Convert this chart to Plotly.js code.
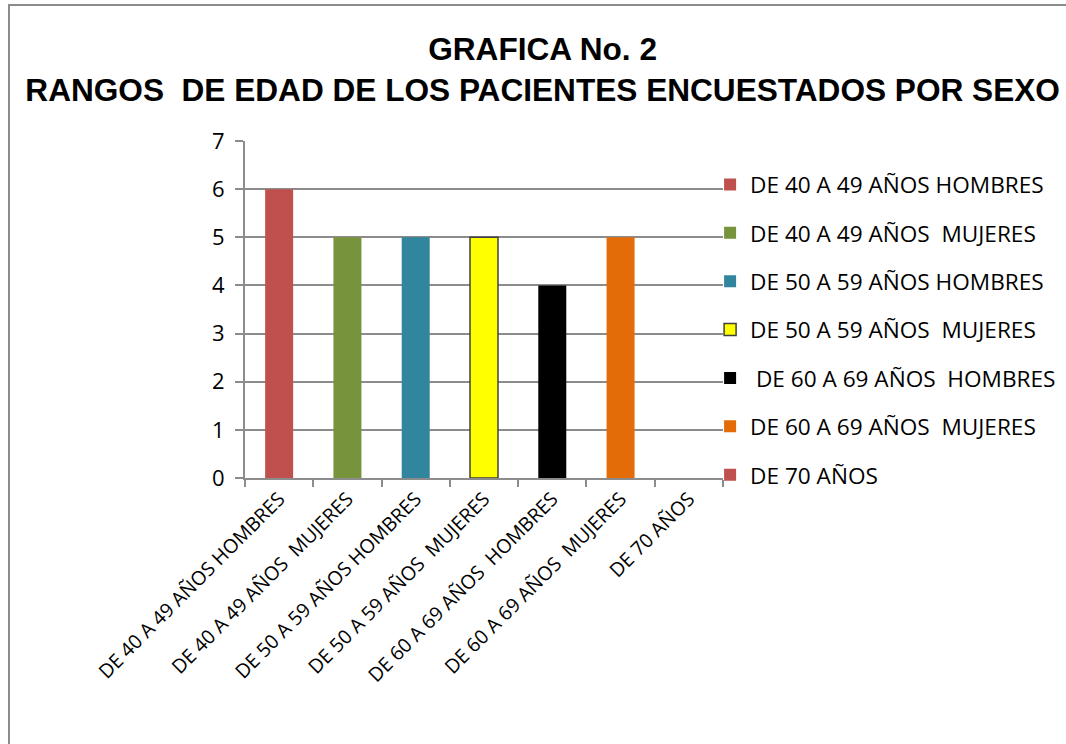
<!DOCTYPE html>
<html>
<head>
<meta charset="utf-8">
<script src="https://cdn.plot.ly/plotly-3.0.1.min.js"></script>
<style>
  html, body { margin: 0; padding: 0; background: #fff; overflow: hidden; }
  #frame { position: absolute; left: 8px; top: 4px; width: 1100px; height: 800px; border: 2px solid #8c8c8c; box-sizing: border-box; }
  #chart { position: absolute; left: 0; top: 0; width: 1066px; height: 744px; }
</style>
</head>
<body>
<div id="frame"></div>
<div id="chart"></div>
<script>
const categories = [
  "DE 40 A 49 AÑOS HOMBRES",
  "DE 40 A 49 AÑOS  MUJERES",
  "DE 50 A 59 AÑOS HOMBRES",
  "DE 50 A 59 AÑOS  MUJERES",
  "DE 60 A 69 AÑOS  HOMBRES",
  "DE 60 A 69 AÑOS  MUJERES",
  "DE 70 AÑOS"
];
const legendNames = [
  "DE 40 A 49 AÑOS HOMBRES",
  "DE 40 A 49 AÑOS  MUJERES",
  "DE 50 A 59 AÑOS HOMBRES",
  "DE 50 A 59 AÑOS  MUJERES",
  " DE 60 A 69 AÑOS  HOMBRES",
  "DE 60 A 69 AÑOS  MUJERES",
  "DE 70 AÑOS"
];
const values = [6, 5, 5, 5, 4, 5, 0];
const colors = ["#C0504D", "#77933C", "#31859C", "#FFFF00", "#000000", "#E36C09", "#C0504D"];
const outlines = [null, null, null, "#404040", null, null, null];

const traces = categories.map((c, i) => ({
  type: "bar",
  x: [c],
  y: [values[i]],
  name: legendNames[i],
  legendgroup: "g" + i,
  marker: {
    color: colors[i],
    line: outlines[i] ? { color: outlines[i], width: 1.5 } : { width: 0 }
  },
  hoverinfo: "x+y"
}));

const layout = {
  width: 1066,
  height: 744,
  paper_bgcolor: "rgba(0,0,0,0)",
  plot_bgcolor: "rgba(0,0,0,0)",
  margin: { l: 245, r: 343, t: 141, b: 266, autoexpand: false },
  barmode: "overlay",
  bargap: 0.59,
  title: {
    text: "<b>GRAFICA No. 2</b><br><b>RANGOS  DE EDAD DE LOS PACIENTES ENCUESTADOS POR SEXO</b>",
    font: { family: "Liberation Sans, Arial, sans-serif", size: 31.6, color: "#000" },
    x: 0.509,
    xanchor: "center",
    y: 0.92,
    yanchor: "top"
  },
  font: { family: "Open Sans, sans-serif", color: "#000" },
  xaxis: {
    type: "category",
    categoryorder: "array",
    categoryarray: categories,
    tickangle: -45,
    tickfont: { size: 19.5, family: "Open Sans, sans-serif", color: "#000" },
    ticks: "outside",
    tickson: "boundaries",
    ticklen: 7,
    tickcolor: "#8c8c8c",
    tickwidth: 2,
    showline: true,
    linecolor: "#8c8c8c",
    linewidth: 2,
    showgrid: false,
    zeroline: false,
    automargin: false
  },
  yaxis: {
    range: [0, 7],
    dtick: 1,
    tickfont: { size: 22, family: "Open Sans, sans-serif", color: "#000" },
    ticks: "outside",
    ticklen: 8,
    tickcolor: "#8c8c8c",
    tickwidth: 2,
    ticklabelstandoff: 6,
    showline: true,
    linecolor: "#8c8c8c",
    linewidth: 2,
    showgrid: true,
    gridcolor: "#8c8c8c",
    gridwidth: 2,
    zeroline: false,
    automargin: false
  },
  showlegend: true,
  legend: {
    x: 0.973,
    xanchor: "left",
    y: 0.934,
    yanchor: "top",
    font: { size: 22.6, family: "Open Sans, sans-serif", color: "#000" },
    tracegroupgap: 16,
    traceorder: "grouped",
    bgcolor: "rgba(0,0,0,0)"
  }
};

Plotly.newPlot("chart", traces, layout, { displayModeBar: false, staticPlot: true });
</script>
</body>
</html>
